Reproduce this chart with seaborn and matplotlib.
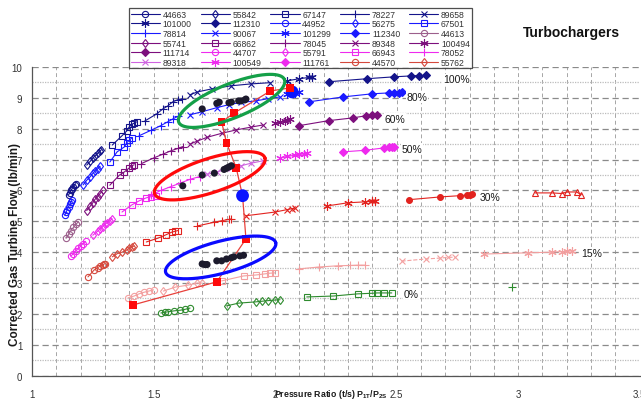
import numpy as np
import matplotlib
matplotlib.use("Agg")
import matplotlib.pyplot as plt
import seaborn as sns

# ---------------------------------------------------------------- data
# run ids listed in the legend
run_ids = ["44663", "55842", "67147", "78227", "89658", "101000", "112310",
           "44952", "56275", "67501", "78814", "90067", "101299", "112340",
           "44613", "55741", "66862", "78045", "89348", "100494", "111714",
           "44707", "55791", "66943", "78052", "89318", "100549", "111761",
           "44570", "55762"]

# 100 % vane opening: pressure ratio / corrected flow per speed line
pr_100 = [[1.15, 1.155, 1.16, 1.165, 1.17, 1.175, 1.18],
          [1.225, 1.24, 1.25, 1.26, 1.27, 1.28, 1.285],
          [1.33, 1.37, 1.39, 1.40, 1.41, 1.42, 1.43],
          [1.464, 1.513, 1.538, 1.559, 1.579, 1.60, 1.616],
          [1.65, 1.68, 1.74, 1.82, 1.90, 1.98],
          [2.05, 2.10, 2.14, 2.15],
          [2.22, 2.38, 2.49, 2.56, 2.59, 2.62]]
wf_100 = [[5.85, 5.93, 6.00, 6.06, 6.12, 6.18, 6.22],
          [6.82, 6.95, 7.05, 7.12, 7.20, 7.27, 7.32],
          [7.47, 7.77, 7.93, 8.06, 8.14, 8.18, 8.22],
          [8.25, 8.48, 8.64, 8.74, 8.87, 8.94, 8.97],
          [9.10, 9.19, 9.29, 9.39, 9.45, 9.49],
          [9.55, 9.62, 9.66, 9.68],
          [9.52, 9.62, 9.68, 9.71, 9.72, 9.73]]

# 80 %
pr_80 = [[1.135, 1.14, 1.145, 1.15, 1.155, 1.16, 1.165],
         [1.21, 1.225, 1.24, 1.25, 1.26, 1.27, 1.28],
         [1.32, 1.35, 1.38, 1.39, 1.40, 1.41],
         [1.44, 1.49, 1.53, 1.56, 1.58, 1.60],
         [1.65, 1.70, 1.76, 1.81, 1.86, 1.92, 1.97, 2.02],
         [2.05, 2.08, 2.10],
         [2.14, 2.28, 2.40, 2.47, 2.49, 2.51, 2.52]]
wf_80 = [[5.20, 5.30, 5.38, 5.47, 5.55, 5.62, 5.70],
         [6.18, 6.33, 6.45, 6.55, 6.63, 6.70, 6.78],
         [6.92, 7.25, 7.41, 7.55, 7.62, 7.70],
         [7.77, 7.95, 8.10, 8.23, 8.32, 8.40],
         [8.45, 8.55, 8.68, 8.78, 8.85, 8.90, 8.97, 9.03],
         [9.12, 9.16, 9.20],
         [8.87, 9.03, 9.13, 9.16, 9.17, 9.17, 9.18]]

# 60 %
pr_60 = [[1.14, 1.15, 1.16, 1.17, 1.18, 1.19],
         [1.225, 1.24, 1.25, 1.26, 1.27, 1.28, 1.29],
         [1.32, 1.36, 1.38, 1.40, 1.41, 1.42],
         [1.45, 1.50, 1.54, 1.57, 1.60, 1.62],
         [1.65, 1.68, 1.72, 1.78, 1.84, 1.90, 1.95],
         [2.00, 2.02, 2.04, 2.05, 2.06],
         [2.10, 2.22, 2.32, 2.375, 2.40, 2.42]]
wf_60 = [[4.45, 4.58, 4.70, 4.80, 4.90, 4.98],
         [5.35, 5.50, 5.60, 5.72, 5.80, 5.90, 6.00],
         [6.17, 6.50, 6.60, 6.73, 6.80, 6.83],
         [6.87, 7.05, 7.18, 7.28, 7.36, 7.42],
         [7.50, 7.60, 7.72, 7.85, 7.96, 8.05, 8.12],
         [8.18, 8.22, 8.25, 8.27, 8.30],
         [8.10, 8.26, 8.35, 8.42, 8.43, 8.43]]

# 50 %
pr_50 = [[1.16, 1.17, 1.18, 1.19, 1.20, 1.21, 1.22],
         [1.25, 1.27, 1.28, 1.29, 1.30, 1.31, 1.32, 1.33],
         [1.37, 1.41, 1.44, 1.47, 1.49, 1.51],
         [1.49, 1.53, 1.57, 1.61, 1.65, 1.69],
         [1.72, 1.76, 1.82, 1.86, 1.90, 1.95],
         [2.02, 2.05, 2.08, 2.10, 2.12, 2.13],
         [2.28, 2.37, 2.45, 2.47, 2.48, 2.49]]
wf_50 = [[3.88, 3.95, 4.05, 4.12, 4.20, 4.28, 4.35],
         [4.55, 4.68, 4.75, 4.82, 4.90, 4.96, 5.02, 5.08],
         [5.30, 5.53, 5.66, 5.76, 5.80, 5.82],
         [5.85, 6.00, 6.12, 6.24, 6.36, 6.45],
         [6.52, 6.60, 6.72, 6.80, 6.88, 6.96],
         [7.06, 7.10, 7.14, 7.17, 7.18, 7.20],
         [7.25, 7.30, 7.38, 7.40, 7.41, 7.42]]

# 30 %
pr_30 = [[1.23, 1.255, 1.27, 1.28, 1.29, 1.295, 1.30],
         [1.33, 1.35, 1.37, 1.39, 1.40, 1.41, 1.42],
         [1.47, 1.52, 1.55, 1.575, 1.59, 1.60],
         [1.68, 1.75, 1.78, 1.81, 1.82],
         [1.88, 2.00, 2.05, 2.07, 2.08],
         [2.215, 2.30, 2.37, 2.40, 2.41],
         [2.55, 2.68, 2.76, 2.79, 2.80, 2.81],
         [3.07, 3.14, 3.18, 3.20, 3.24, 3.26]]
wf_30 = [[3.20, 3.42, 3.50, 3.55, 3.58, 3.61, 3.63],
         [3.85, 3.95, 4.00, 4.07, 4.12, 4.17, 4.20],
         [4.33, 4.46, 4.56, 4.65, 4.68, 4.70],
         [4.85, 4.97, 5.02, 5.06, 5.08],
         [5.18, 5.30, 5.38, 5.41, 5.43],
         [5.50, 5.60, 5.63, 5.65, 5.66],
         [5.70, 5.79, 5.83, 5.85, 5.86, 5.87],
         [5.92, 5.92, 5.90, 5.95, 5.95, 5.86]]

# 15 %
pr_15 = [[1.395, 1.42, 1.44, 1.46, 1.48, 1.50],
         [1.54, 1.59, 1.64, 1.68, 1.70],
         [1.78, 1.87, 1.92, 1.96, 1.98, 2.00],
         [2.10, 2.18, 2.26, 2.31, 2.34, 2.37],
         [2.52, 2.62, 2.68, 2.71, 2.74],
         [2.86, 3.04, 3.14, 3.18, 3.20, 3.22]]
wf_15 = [[2.52, 2.58, 2.65, 2.70, 2.74, 2.78],
         [2.74, 2.87, 2.93, 3.00, 3.00],
         [3.07, 3.23, 3.26, 3.30, 3.32, 3.33],
         [3.46, 3.52, 3.56, 3.57, 3.58, 3.58],
         [3.71, 3.78, 3.81, 3.83, 3.84],
         [3.94, 3.98, 4.00, 4.02, 4.03, 4.04]]

# 0 %
pr_0 = [[1.53, 1.545, 1.56, 1.585, 1.61, 1.63, 1.65],
        [1.80, 1.85, 1.92, 1.945, 1.97, 2.00, 2.02],
        [2.13, 2.24, 2.34, 2.40, 2.42, 2.45, 2.48],
        [2.975]]
wf_0 = [[2.03, 2.05, 2.07, 2.10, 2.12, 2.15, 2.19],
        [2.26, 2.35, 2.39, 2.41, 2.43, 2.45, 2.46],
        [2.55, 2.58, 2.65, 2.67, 2.68, 2.68, 2.68],
        [2.87]]

# engine operating line (red squares) and its two highlighted points
op_pr = [1.415, 1.76, 1.88, 1.84, 1.80, 1.78, 1.83, 1.98, 2.06]
op_wf = [2.29, 3.04, 4.43, 6.73, 7.54, 8.22, 8.50, 9.22, 9.32]
hi_pr = [1.866, 2.07]
hi_wf = [5.83, 9.19]

# measured engine points
meas_hi_pr = [1.70, 1.76, 1.77, 1.81, 1.82, 1.85, 1.86, 1.875, 1.88]
meas_hi_wf = [8.64, 8.82, 8.86, 8.84, 8.86, 8.90, 8.90, 8.93, 8.96]
meas_mid_pr = [1.62, 1.70, 1.75, 1.79, 1.80, 1.81, 1.82]
meas_mid_wf = [6.15, 6.50, 6.56, 6.68, 6.72, 6.76, 6.80]
meas_lo_pr = [1.70, 1.71, 1.72, 1.76, 1.78, 1.80, 1.82, 1.83, 1.855, 1.87]
meas_lo_wf = [3.62, 3.60, 3.60, 3.72, 3.72, 3.78, 3.82, 3.85, 3.88, 3.90]

# vane-position labels
vane_labels = ["100%", "80%", "60%", "50%", "30%", "15%", "0%"]
vane_label_pr = [2.69, 2.54, 2.45, 2.52, 2.84, 3.26, 2.53]
vane_label_wf = [9.60, 9.03, 8.32, 7.35, 5.79, 3.97, 2.66]

# ---------------------------------------------------------------- style
sns.set_style("white")
plt.rcParams["font.family"] = ["Liberation Sans", "DejaVu Sans"]
plt.rcParams["mathtext.fontset"] = "custom"
plt.rcParams["mathtext.rm"] = "Liberation Sans:bold"
plt.rcParams["mathtext.it"] = "Liberation Sans:bold"

AST = (6, 2, 0)
fig = plt.figure(figsize=(6.41, 4.02), dpi=100)
ax = fig.add_axes([0.050, 0.063, 0.948, 0.768])

XMIN, XMAX, YMIN, YMAX = 1.0, 3.5, 0.0, 10.0
ax_w_px = 0.948 * 641
ax_h_px = 0.768 * 402
sx = ax_w_px / (XMAX - XMIN)
sy = ax_h_px / (YMAX - YMIN)


def draw_group(prs, wfs, colors, markers, sizes, fills, labels, styles=None):
    for i, (x, y) in enumerate(zip(prs, wfs)):
        ls = "-" if styles is None else styles[i]
        mfc = colors[i] if fills[i] else "none"
        sns.lineplot(x=x, y=y, sort=False, estimator=None, ax=ax,
                     color=colors[i], lw=0.8, ls=ls, marker=markers[i],
                     markersize=sizes[i], mfc=mfc, mec=colors[i], mew=0.8,
                     label=labels[i], zorder=3)


mk7 = ["o", "d", "s", "+", "x", AST, "D"]
sz7 = [4.5, 4.5, 5, 6, 4.5, 6, 3.8]
fl7 = [False, False, False, False, False, False, True]

navy, blue, purple, magenta = "#14148a", "#1a1aff", "#7d0f7d", "#ee2aee"
red, pink, green = "#e2231f", "#f3a0a0", "#2e8b2e"

draw_group(pr_100, wf_100, [navy] * 7, mk7, sz7, fl7, run_ids[0:7])
draw_group(pr_80, wf_80, [blue] * 7, mk7, sz7, fl7, run_ids[7:14])
draw_group(pr_60, wf_60, ["#9c5f8c"] + [purple] * 6, mk7, sz7, fl7, run_ids[14:21])
draw_group(pr_50, wf_50, [magenta] * 4 + ["#cf63e0", magenta, magenta], mk7, sz7, fl7,
           run_ids[21:28])
draw_group(pr_30, wf_30, ["#d5483c", "#d5483c"] + [red] * 6,
           mk7[:6] + ["o", "^"], sz7[:6] + [4.2, 5],
           fl7[:6] + [True, False], run_ids[28:30] + [None] * 6)
draw_group(pr_15, wf_15, [pink] * 6, ["o", "d", "s", "+", "x", AST],
           [4.5, 4.5, 5, 6, 4.5, 6], [False] * 6, [None] * 6,
           styles=["-", "-", "-", "-", "--", "-"])
draw_group(pr_0, wf_0, [green] * 4, ["o", "d", "s", "+"], [4.5, 4.5, 5, 6],
           [False] * 4, [None] * 4)

# operating line through the red squares and the first highlighted point
path_pr = op_pr[:3] + hi_pr[:1] + op_pr[3:]
path_wf = op_wf[:3] + hi_wf[:1] + op_wf[3:]
sns.lineplot(x=path_pr, y=path_wf, sort=False, estimator=None, ax=ax,
             color="#e8403a", lw=0.9, zorder=4)
sns.scatterplot(x=hi_pr, y=hi_wf, ax=ax, color="#0a14ff", s=85,
                edgecolor="none", zorder=5)
sns.scatterplot(x=op_pr, y=op_wf, ax=ax, color="#ff0a0a", marker="s", s=30,
                edgecolor="none", zorder=6)

for mx, my in [(meas_hi_pr, meas_hi_wf), (meas_mid_pr, meas_mid_wf),
               (meas_lo_pr, meas_lo_wf)]:
    sns.scatterplot(x=mx, y=my, ax=ax, color="#1c1a2c", s=26,
                    edgecolor="none", zorder=6)

# highlight rings drawn round each group of engine points
rings = [((1.821, 8.90), 57, 17, 22, "#14a048"),
         ((1.731, 6.475), 58, 17, 18, "#ff0a0a"),
         ((1.776, 3.83), 57, 16, 15, "#0a0aff")]
t = np.linspace(0, 2 * np.pi, 300)
for (cx, cy), a, b, ang, col in rings:
    th = np.deg2rad(ang)
    u, v = a * np.cos(t), b * np.sin(t)
    ax.plot(cx + (u * np.cos(th) - v * np.sin(th)) / sx,
            cy + (u * np.sin(th) + v * np.cos(th)) / sy,
            color=col, lw=2.3, zorder=7, solid_capstyle="round")

for lab, lx, ly in zip(vane_labels, vane_label_pr, vane_label_wf):
    ax.text(lx, ly, lab, fontsize=7.5, color="#1a1a1a", ha="left", va="center",
            zorder=8, bbox=dict(facecolor="white", edgecolor="none", pad=0.5))

# ---------------------------------------------------------------- axes
ax.set_xlim(XMIN, XMAX)
ax.set_ylim(YMIN, YMAX)
ax.set_xticks(np.arange(1.0, 3.51, 0.5))
ax.set_xticks(np.arange(1.0, 3.51, 0.1), minor=True)
ax.set_xticklabels(["1", "1.5", "2", "2.5", "3", "3.5"])
ax.set_yticks(np.arange(0, 11, 1))
ax.set_yticks(np.arange(0.5, 10, 1.0), minor=True)
ax.tick_params(axis="x", which="major", direction="inout", length=7, width=0.8,
               color="#444444", labelsize=7, labelcolor="#333333", pad=6)
ax.tick_params(axis="x", which="minor", direction="inout", length=5, width=0.7,
               color="#666666")
ax.tick_params(axis="y", which="major", direction="out", length=4, width=0.8,
               color="#444444", labelsize=7, labelcolor="#333333", pad=3)
ax.tick_params(axis="y", which="minor", length=0)

ax.grid(which="both", axis="x", ls=(0, (4, 3)), color="#a6a6a6", lw=0.7)
ax.grid(which="major", axis="y", ls=(0, (5, 3)), color="#8a8a8a", lw=0.9)
ax.grid(which="minor", axis="y", ls=(0, (1, 1)), color="#bcbcbc", lw=0.9)
ax.set_axisbelow(True)
for side in ["top", "right"]:
    ax.spines[side].set_visible(False)
for side in ["left", "bottom"]:
    ax.spines[side].set_color("#555555")
    ax.spines[side].set_linewidth(0.9)

ax.set_xlabel(r"Pressure Ratio (t/s) P$_{\mathregular{1T}}$/P$_{\mathregular{2S}}$",
              fontsize=6.3, fontweight="bold", color="#1a1a1a")
ax.xaxis.set_label_coords(0.492, -0.036)
ax.xaxis.label.set_va("top")
ax.set_ylabel("Corrected Gas Turbine Flow (lb/min)", fontsize=8.5,
              fontweight="bold", color="#1a1a1a")
ax.yaxis.set_label_coords(-0.018, 0.427)

fig.text(0.892, 0.918, "Turbochargers", fontsize=10, fontweight="bold",
         color="#111111", ha="center", va="center")

# legend: row-major order in five columns
handles, labels = ax.get_legend_handles_labels()
if ax.get_legend() is not None:
    ax.get_legend().remove()
lookup = dict(zip(labels, handles))
ncol, nrow = 5, 6
order = [r * ncol + c for c in range(ncol) for r in range(nrow)]
leg_h = [lookup[run_ids[i]] for i in order]
leg_l = [run_ids[i] for i in order]
leg = fig.legend(leg_h, leg_l, ncol=ncol, loc="upper left",
                 bbox_to_anchor=(129 / 641, 1 - 9 / 402), fontsize=6.2,
                 frameon=True, fancybox=False, edgecolor="#222222",
                 labelspacing=0.07, handlelength=3.4, handletextpad=0.3,
                 columnspacing=1.05, borderpad=0.2, borderaxespad=0)
leg.get_frame().set_linewidth(0.9)
for txt in leg.get_texts():
    txt.set_color("#333333")

fig.savefig("out.png", dpi=100)
